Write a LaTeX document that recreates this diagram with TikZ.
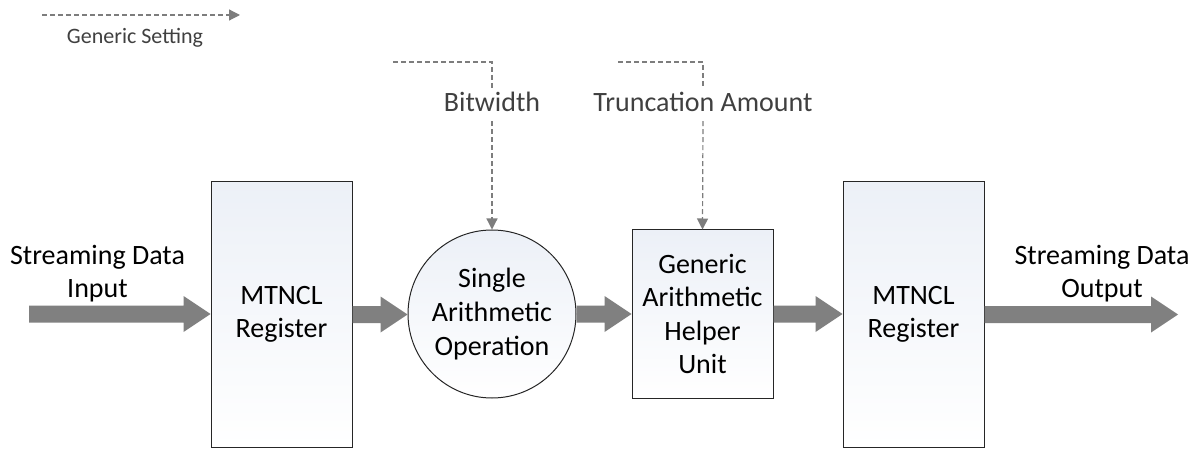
\documentclass[tikz,border=0pt]{standalone}
\usepackage{fontspec}
\setmainfont{Carlito}
\usetikzlibrary{arrows.meta,calc}

\definecolor{flowgray}{RGB}{128,128,128}
\definecolor{settinggray}{RGB}{125,125,125}
\definecolor{labelgray}{RGB}{64,64,64}
\definecolor{boxtint}{RGB}{236,240,247}
\definecolor{edgegray}{RGB}{38,38,38}

\tikzset{
  blocktext/.style={font=\fontsize{28}{33.6}\selectfont, text=black, align=center},
  unitbox/.style={blocktext, draw=edgegray, line width=1pt, rectangle,
    top color=boxtint, bottom color=white, inner sep=0pt},
  regbox/.style={unitbox, minimum width=141pt, minimum height=265pt},
  helperbox/.style={unitbox, minimum width=141pt, minimum height=168pt},
  opcircle/.style={unitbox, circle, minimum size=168pt},
  streamlabel/.style={blocktext, inner sep=0pt},
  settinglabel/.style={font=\fontsize{28}{33.6}\selectfont, text=labelgray,
    text height=20pt, text depth=5pt, inner sep=4pt, anchor=base},
  legendlabel/.style={font=\fontsize{22}{26}\selectfont, text=labelgray,
    inner sep=0pt, anchor=base},
  setting/.style={draw=settinggray, line width=1.2pt, dash pattern=on 5pt off 3pt},
  settingarrow/.style={setting, -{Triangle[length=11pt,width=11pt]}},
  flow/.style={fill=flowgray}
}

% broad horizontal data-flow arrow between two named points
\newcommand{\flowarrow}[2]{%
  \fill[flow] let \p1=(#1), \p2=(#2) in
    (\x1,\y1+8.5pt) -- (\x2-27pt,\y1+8.5pt) -- (\x2-27pt,\y1+18pt) --
    (\x2,\y1) -- (\x2-27pt,\y1-18pt) -- (\x2-27pt,\y1-8.5pt) --
    (\x1,\y1-8.5pt) -- cycle;}

\begin{document}
\begin{tikzpicture}[x=1pt,y=-1pt]
  \useasboundingbox (0,0) rectangle (1200,449);

  % legend
  \coordinate (legA) at (42,15);
  \coordinate (legB) at (240,15);
  \draw[settingarrow] (legA) -- (legB);
  \node[legendlabel] (legtext) at (135,44) {Generic Setting};

  % processing chain
  \node[regbox]    (reg1)   at (281.5,314.5) {MTNCL\\Register};
  \node[opcircle]  (op)     at (492,314) {Single\\Arithmetic\\Operation};
  \node[helperbox] (helper) at (702.5,314) {Generic\\Arithmetic\\Helper\\Unit};
  \node[regbox]    (reg2)   at (913.5,314.5) {MTNCL\\Register};

  % stream end points and their labels
  \coordinate (inStart) at (29,314);
  \coordinate (outEnd)  at (1178,314);
  \node[streamlabel] (inlabel)  at (97.5,273.5) {Streaming Data\\Input};
  \node[streamlabel] (outlabel) at (1102,273.5) {Streaming Data\\Output};

  % data flow
  \flowarrow{inStart}{reg1.west}
  \flowarrow{reg1.east}{op.west}
  \flowarrow{op.east}{helper.west}
  \flowarrow{helper.east}{reg2.west}
  \flowarrow{reg2.east}{outEnd}

  % generic settings
  \node[settinglabel] (bw) at (492,112) {Bitwidth};
  \node[settinglabel] (trunc) at (703,112) {Truncation Amount};
  \coordinate (bwStart) at (393,62);
  \coordinate (truncStart) at (618,62);
  \draw[setting] (bwStart) -| (bw.north);
  \draw[settingarrow] (bw.south) -- (op.north);
  \draw[setting] (truncStart) -| (trunc.north);
  \draw[settingarrow] (trunc.south) -- (helper.north);
\end{tikzpicture}
\end{document}
